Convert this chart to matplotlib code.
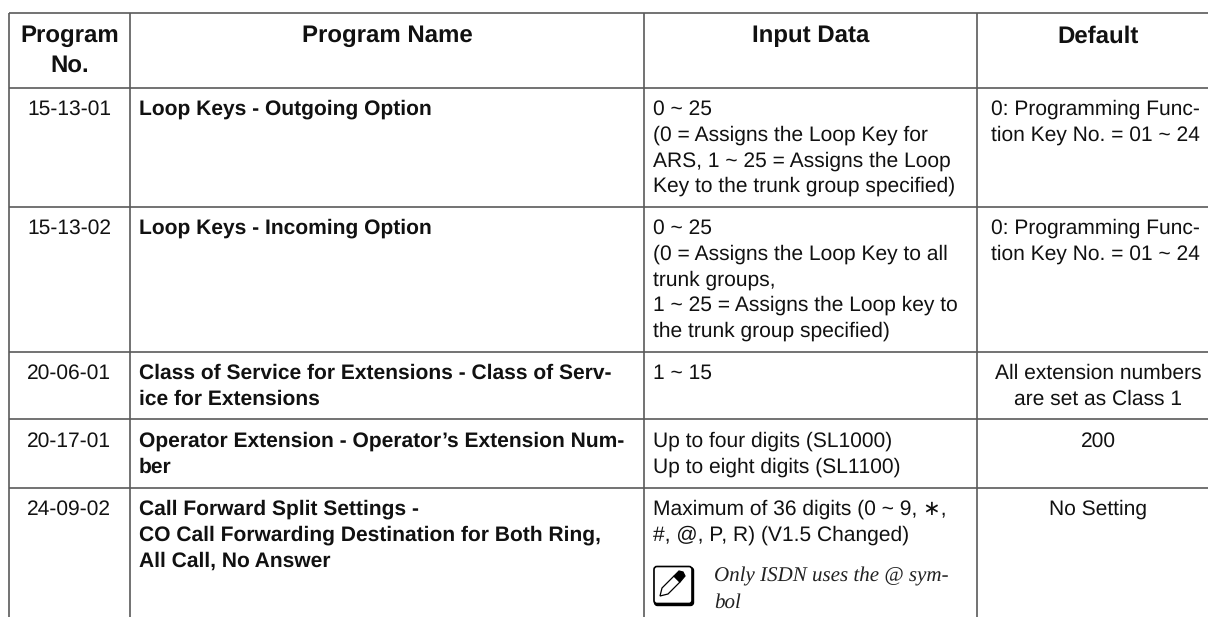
import matplotlib
matplotlib.use('Agg')
import matplotlib.pyplot as plt
from matplotlib.patches import FancyBboxPatch, Polygon

W, H = 1208, 617

# ===================== Dados =====================
cabecalho = [['Program', 'No.'], ['Program Name'], ['Input Data'], ['Default']]

programas = ['15-13-01', '15-13-02', '20-06-01', '20-17-01', '24-09-02']

nomes = [
    ['Loop Keys - Outgoing Option'],
    ['Loop Keys - Incoming Option'],
    ['Class of Service for Extensions - Class of Serv-', 'ice for Extensions'],
    ['Operator Extension - Operator\u2019s Extension Num-', 'ber'],
    ['Call Forward Split Settings -', 'CO Call Forwarding Destination for Both Ring,', 'All Call, No Answer'],
]

entradas = [
    ['0 ~ 25', '(0 = Assigns the Loop Key for', 'ARS, 1 ~ 25 = Assigns the Loop', 'Key to the trunk group specified)'],
    ['0 ~ 25', '(0 = Assigns the Loop Key to all', 'trunk groups,', '1 ~ 25 = Assigns the Loop key to', 'the trunk group specified)'],
    ['1 ~ 15'],
    ['Up to four digits (SL1000)', 'Up to eight digits (SL1100)'],
    ['Maximum of 36 digits (0 ~ 9, \u2217,', '#, @, P, R) (V1.5 Changed)'],
]

padroes = [
    ['0: Programming Func-', 'tion Key No. = 01 ~ 24'],
    ['0: Programming Func-', 'tion Key No. = 01 ~ 24'],
    ['All extension numbers', 'are set as Class 1'],
    ['200'],
    ['No Setting'],
]
padrao_centro = [False, False, True, True, True]

nota = ['Only ISDN uses the @ sym-', 'bol']

# ================ Layout ================
xs = [8.5, 130, 644.4, 977]
centro_padrao = 1098
ys = [12.7, 87.7, 206.7, 351.7, 419.3, 487.7]
cor_linha = '#5a5a5a'
lh = 25.7
fs = 15.3

plt.rcParams['font.family'] = ['Liberation Sans', 'DejaVu Sans']
plt.rcParams['text.hinting'] = 'no_hinting'
plt.rcParams['text.hinting_factor'] = 1

fig = plt.figure(figsize=(W / 100, H / 100), dpi=100)
ax = fig.add_axes([0, 0, 1, 1])
ax.set_xlim(0, W)
ax.set_ylim(H, 0)
ax.axis('off')

for x in xs:
    ax.plot([x, x], [ys[0], H], color=cor_linha, lw=1.2, solid_capstyle='butt')
for y in ys:
    ax.plot([xs[0], W], [y, y], color=cor_linha, lw=1.2, solid_capstyle='butt')


def escrever(x, y, linhas, ha='left', **kw):
    for i, t in enumerate(linhas):
        ax.text(x, y + i * lh, t, ha=ha, va='baseline', fontsize=fs, color='#111111', **kw)


# cabecalho
centros = [(xs[0] + xs[1]) / 2, (xs[1] + xs[2]) / 2, (xs[2] + xs[3]) / 2, centro_padrao]
for cx, linhas in zip(centros, cabecalho):
    for i, t in enumerate(linhas):
        ax.text(cx, 42.3 + i * 29.4, t, ha='center', va='baseline', fontsize=17.2,
                fontweight='bold', color='#111111')

# linhas da tabela
for k in range(5):
    base = ys[k + 1] + 27.3
    escrever(centros[0], base, [programas[k]], ha='center')
    escrever(xs[1] + 8.7, base, nomes[k], fontweight='bold')
    escrever(xs[2] + 8.6, base, entradas[k])
    if padrao_centro[k]:
        escrever(centro_padrao, base, padroes[k], ha='center')
    else:
        escrever(xs[3] + 14, base, padroes[k])

# icone da nota
ax.add_patch(FancyBboxPatch((654.5, 567.5), 39, 38, boxstyle='round,pad=0,rounding_size=3',
                            fc='black', ec='black', lw=1))
ax.add_patch(FancyBboxPatch((654, 566.5), 38, 37, boxstyle='round,pad=0,rounding_size=3',
                            fc='white', ec='black', lw=1.2))
ax.add_patch(Polygon([(660, 596), (662, 588), (674, 576), (680, 582), (668, 594)],
                     closed=True, fc='white', ec='black', lw=0.9))
ax.add_patch(Polygon([(674, 576), (679, 571), (683, 572), (685, 576), (680, 582)],
                     closed=True, fc='black', ec='black', lw=0.9))

for i, t in enumerate(nota):
    ax.text(714, 581.7 + i * 26, t, family='Liberation Serif', style='italic',
            fontsize=15.3, color='#222222', va='baseline')

fig.savefig('out.png', dpi=100)
